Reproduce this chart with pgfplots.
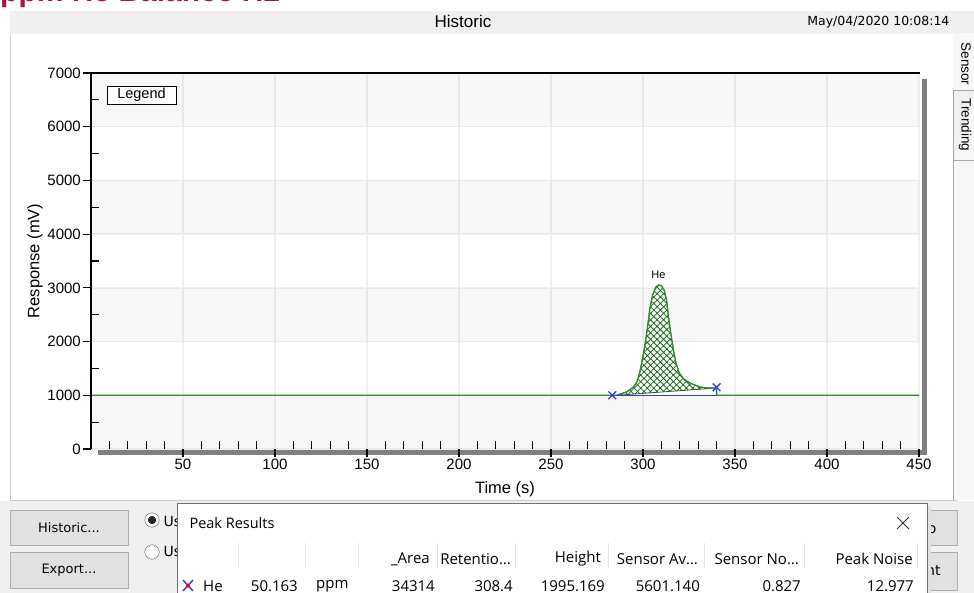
\documentclass[border=0pt]{standalone}
\usepackage{pgfplots}
\pgfplotsset{compat=1.18}
\usetikzlibrary{patterns.meta}
\usepackage{fontspec}
\setmainfont{Liberation Sans}
\newfontfamily\tahoma{DejaVu Sans}
\newfontfamily\segoe{Open Sans}

\definecolor{trace}{HTML}{2E8B2E}
\definecolor{hatch}{HTML}{1A661A}
\definecolor{peakblue}{HTML}{3838E0}
\definecolor{wingray}{HTML}{F0F0F0}
\definecolor{crimson}{HTML}{A8163E}
\definecolor{btnfill}{HTML}{E1E1E1}
\definecolor{btnedge}{HTML}{ADADAD}
\definecolor{divider}{HTML}{E4E4E4}

\newcommand\fs[1]{\fontsize{#1}{#1}\selectfont}

\begin{document}
\begin{tikzpicture}
\useasboundingbox (0,0) rectangle (974pt,-593pt);

% ---------- window chrome (pixel grid, y downwards) ----------
\begin{scope}[x=1pt,y=-1pt]
  \fill[white] (0,0) rectangle (974,593);
  \begin{scope}
    \clip (0,0) rectangle (974,11);
    \node[anchor=base west, inner sep=0, text=crimson, font=\bfseries\fs{30}] at (0,1.5) {ppm He Balance H2};
  \end{scope}
  % title bar
  \fill[wingray] (10,11) rectangle (974,34);
  \node[font=\fs{17}] at (463,21) {Historic};
  \node[anchor=east, font=\tahoma\fs{12.5}] at (953,22) {May/04/2020 10:08:14};
  % chart panel
  \fill[white] (10,35) rectangle (953,500);
  \draw[black!20] (10.5,35) -- (10.5,500.5) -- (957,500.5);
  % side tabs
  \fill[black!3] (953,35) rectangle (974,500);
  \draw[black!35, fill=wingray] (953.5,160) -- (953.5,90.5) -- (974,90.5) (953.5,160) -- (974,160);
  \draw[black!35] (953.5,160) -- (953.5,500);
  \node[rotate=-90, font=\fs{13.5}] at (966,64) {Sensor};
  \node[rotate=-90, font=\fs{13.5}] at (965,125) {Trending};
  % plot frame shadow bars
  \fill[black!50] (98,450) rectangle (927,454.5);
  \fill[black!50] (922,79) rectangle (927,454.5);
\end{scope}

% ---------- chromatogram ----------
\begin{axis}[
  at={(91pt,-449pt)}, anchor=south west,
  scale only axis, width=828pt, height=376pt,
  xmin=0, xmax=450, ymin=0, ymax=7000,
  axis line style={draw=none},
  xtick pos=bottom, ytick pos=left,
  xtick={50,100,150,200,250,300,350,400,450},
  xticklabels={50,100,150,200,250,300,350,400,450},
  ytick={0,1000,2000,3000,4000,5000,6000,7000},
  yticklabels={0,1000,2000,3000,4000,5000,6000,7000},
  tick align=outside, major tick length=8pt,
  tick style={black, line width=1.1pt},
  extra x ticks={10,20,30,40,60,70,80,90,110,120,130,140,160,170,180,190,210,220,230,240,260,270,280,290,310,320,330,340,360,370,380,390,410,420,430,440},
  extra x tick labels={},
  extra y ticks={500,1500,2500,3500,4500,5500,6500},
  extra y tick labels={},
  extra tick style={tick align=inside, major tick length=8pt, grid=none},
  xmajorgrids, ymajorgrids,
  grid style={black!6, line width=1.5pt},
  ticklabel style={font=\fs{15}, inner sep=2pt},
  xlabel={Time (s)}, ylabel={Response (mV)},
  label style={font=\fs{16.5}},
  xlabel style={yshift=2pt},
  ylabel style={yshift=-9pt},
  clip=false,
]
  % alternating background bands
  \fill[black, opacity=0.03] (axis cs:0,0) rectangle (axis cs:450,1000);
  \fill[black, opacity=0.03] (axis cs:0,2000) rectangle (axis cs:450,3000);
  \fill[black, opacity=0.03] (axis cs:0,4000) rectangle (axis cs:450,5000);
  \fill[black, opacity=0.03] (axis cs:0,6000) rectangle (axis cs:450,7000);

  % integrated peak area above the drop baseline
  \addplot[draw=hatch, line width=0.8pt,
    pattern={Hatch[angle=45, distance=4.6pt, line width=0.75pt]}, pattern color=hatch]
    coordinates {
      (285.7,1000) (291.1,1062) (294.7,1149) (296.9,1261) (298.4,1447)
      (299.8,1695) (301.1,1943) (302.4,2254) (303.8,2626) (305.3,2874)
      (306.9,3011) (308.4,3054) (310.1,3036) (311.6,2949) (312.9,2750)
      (313.9,2440) (315.2,2130) (316.5,1850) (317.9,1602) (319.7,1416)
      (321.9,1310) (324.6,1248) (327.4,1199) (331.0,1155) (334.6,1136)
      (340.0,1136)
    } -- cycle;

  % detector trace
  \addplot[trace, line width=1.3pt] coordinates {
      (0,1000) (285.7,1000) (291.1,1062) (294.7,1149) (296.9,1261) (298.4,1447)
      (299.8,1695) (301.1,1943) (302.4,2254) (303.8,2626) (305.3,2874)
      (306.9,3011) (308.4,3054) (310.1,3036) (311.6,2949) (312.9,2750)
      (313.9,2440) (315.2,2130) (316.5,1850) (317.9,1602) (319.7,1416)
      (321.9,1310) (324.6,1248) (327.4,1199) (331.0,1155) (334.6,1136)
      (340.0,1136) (340.0,1000) (450,1000)
    };

  % peak baseline and its start/end markers
  \addplot[peakblue, line width=1.3pt] coordinates {(283.3,1000) (340.0,1000)};
  \addplot[only marks, mark=x, mark size=5.5pt, peakblue, line width=1.3pt]
    coordinates {(283.3,1000) (340.0,1149)};

  \node[font=\fs{11}] at (axis cs:308.4,3250) {He};
\end{axis}

% ---------- frame lines, legend, controls ----------
\begin{scope}[x=1pt,y=-1pt]
  \draw[black, line width=1.8pt] (91,449) -- (91,73) -- (920,73);
  \node[draw=black, line width=0.8pt, fill=white, minimum width=69pt, minimum height=18pt,
        inner sep=0, font=\fs{14.5}] at (141.5,95) {Legend};

  % bottom control strip
  \fill[wingray] (0,501) rectangle (974,593);
  \draw[btnedge, fill=btnfill] (10.5,510.5) rectangle (128,545);
  \node[font=\tahoma\fs{13}] at (69,528) {Historic...};
  \draw[btnedge, fill=btnfill] (10.5,552.5) rectangle (128,588);
  \node[font=\tahoma\fs{13}] at (69,570) {Export...};
  \draw[black!70, fill=white] (152,520) circle (7.2);
  \fill[black!85] (152,520) circle (4.2);
  \draw[black!70, fill=white] (152,552) circle (7.2);
  \node[anchor=west, font=\tahoma\fs{14}] at (160,521) {Use};
  \node[anchor=west, font=\tahoma\fs{14}] at (160,551) {Use};
  \draw[btnedge, fill=btnfill] (860,510.5) rectangle (957,545);
  \node[anchor=east, font=\tahoma\fs{14}] at (940,528) {Auto};
  \draw[btnedge, fill=btnfill] (860,552.5) rectangle (957,590);
  \node[anchor=east, font=\tahoma\fs{14}] at (944,570) {Print};

  % peak results window
  \fill[black!12] (927,507) rectangle (931,593);
  \fill[white] (177,503) rectangle (927,593);
  \draw[black!55] (177.5,593) -- (177.5,503.5) -- (927.5,503.5) -- (927.5,593);
  \node[anchor=west, font=\segoe\fs{14.5}] at (186,523) {Peak Results};
  \draw[black!80, line width=0.9pt] (897,517) -- (909,529) (897,529) -- (909,517);
  \foreach \x in {238,305,358,437,515,608,704,804,917}
    \draw[divider, line width=1pt] (\x,543) -- (\x,568);
  \begin{scope}[every node/.style={font=\segoe\fs{15}, inner sep=0}]
    \node[anchor=east] at (430,559) {\_Area};
    \node[anchor=east] at (511,559) {Retentio…};
    \node[anchor=east] at (601,559) {Height};
    \node[anchor=east] at (698,559) {Sensor Av…};
    \node[anchor=east] at (799,559) {Sensor No…};
    \node[anchor=east] at (913,559) {Peak Noise};
    \node[anchor=west] at (203,586) {He};
    \node[anchor=east] at (298,586) {50.163};
    \node[anchor=west] at (316,586) {ppm};
    \node[anchor=east] at (435,586) {34314};
    \node[anchor=east] at (513,586) {308.4};
    \node[anchor=east] at (605,586) {1995.169};
    \node[anchor=east] at (700,586) {5601.140};
    \node[anchor=east] at (801,586) {0.827};
    \node[anchor=east] at (914,586) {12.977};
  \end{scope}
  \draw[peakblue, line width=1.4pt] (183,580) -- (193,591) (183,591) -- (193,580);
  \fill[red] (188,585.5) circle (2);
\end{scope}
\end{tikzpicture}
\end{document}
